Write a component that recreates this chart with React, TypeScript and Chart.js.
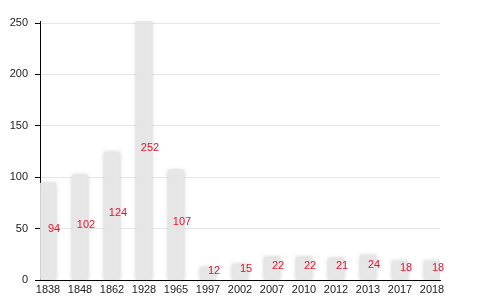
import React, { useEffect, useRef } from "react";
import { Chart, registerables } from "chart.js";

Chart.register(...registerables);

const years = ["1838", "1848", "1862", "1928", "1965", "1997", "2002", "2007", "2010", "2012", "2013", "2017", "2018"];
const values = [94, 102, 124, 252, 107, 12, 15, 22, 22, 21, 24, 18, 18];
const yTicks = [0, 50, 100, 150, 200, 250];

const FONT = "'Liberation Sans', Arial, sans-serif";

const shadowPlugin = {
  id: "softBars",
  beforeDatasetsDraw(chart: any) {
    const ctx = chart.ctx;
    ctx.save();
    ctx.shadowColor = "rgba(200,200,200,0.9)";
    ctx.shadowBlur = 4;
  },
  afterDatasetsDraw(chart: any) {
    chart.ctx.restore();
  },
};

const labelPlugin = {
  id: "valueLabels",
  afterDatasetsDraw(chart: any) {
    const ctx = chart.ctx;
    const meta = chart.getDatasetMeta(0);
    const ys = chart.scales.y;
    ctx.save();
    ctx.font = `11px ${FONT}`;
    ctx.fillStyle = "#e8122d";
    ctx.textAlign = "center";
    ctx.textBaseline = "alphabetic";
    meta.data.forEach((el: any, i: number) => {
      const v = values[i];
      const y = ys.getPixelForValue(v / 2);
      ctx.fillText(String(v), el.x + 6, y);
    });
    ctx.restore();
  },
};

export default function App() {
  const ref = useRef<HTMLCanvasElement | null>(null);
  useEffect(() => {
    if (!ref.current) return;
    const chart = new Chart(ref.current, {
      type: "bar",
      data: {
        datasets: [
          {
            data: values.map((v, i) => ({ x: i, y: v })),
            backgroundColor: "#e6e6e6",
            borderWidth: 0,
            barThickness: 15,
          },
        ],
      },
      options: {
        animation: false,
        responsive: false,
        maintainAspectRatio: false,
        layout: { padding: { top: 21, right: 40, left: 0, bottom: 0 } },
        plugins: { legend: { display: false }, tooltip: { enabled: false } },
        scales: {
          x: {
            type: "linear",
            min: -0.25,
            max: 12.25,
            offset: false,
            grid: { display: false, drawTicks: false },
            border: { display: true, color: "#000", width: 1 },
            afterFit: (s: any) => { s.height = 20; },
            ticks: {
              stepSize: 1,
              includeBounds: false,
              autoSkip: false,
              maxRotation: 0,
              padding: 3,
              color: "#222",
              font: { family: FONT, size: 11 },
              callback: (v: any) => (Number.isInteger(v) ? years[v] : ""),
            },
          },
          y: {
            min: 0,
            max: 252,
            grid: { color: "#e6e6e6", tickColor: "#000", tickLength: 5, drawTicks: true },
            border: { display: true, color: "#000", width: 1 },
            afterFit: (s: any) => { s.width = 40; },
            afterBuildTicks: (s: any) => { s.ticks = yTicks.map((v) => ({ value: v })); },
            ticks: {
              stepSize: 50,
              includeBounds: false,
              padding: 7,
              color: "#222",
              font: { family: FONT, size: 11 },
            },
          },
        },
      },
      plugins: [shadowPlugin, labelPlugin],
    });
    return () => chart.destroy();
  }, []);
  return (
    <div style={{ position: "fixed", left: 0, top: 0, width: 480, height: 300, background: "#fff" }}>
      <canvas ref={ref} width={480} height={300} style={{ width: 480, height: 300 }} />
    </div>
  );
}
